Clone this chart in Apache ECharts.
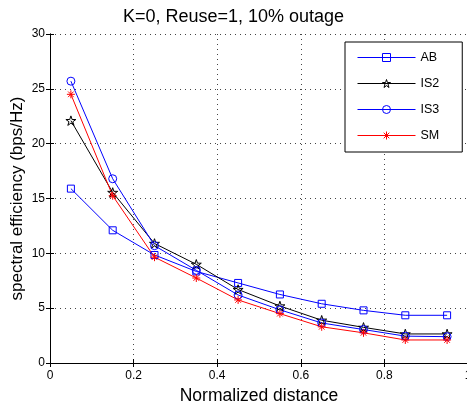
<!DOCTYPE html>
<html>

<head>
    <title>spectral efficiency</title>
    <meta charset="UTF-8">
    <script src="https://cdn.jsdelivr.net/npm/echarts@6.0.0/dist/echarts.min.js"></script>
    <style>
        html, body { margin: 0; padding: 0; background: #fff; }
        #mycharts { width: 467px; height: 406px; }
    </style>
</head>

<body>
    <div id="mycharts"></div>

    <script>
        // normalized distance (x of each point)
        var distances = [0.05, 0.15, 0.25, 0.35, 0.45, 0.55, 0.65, 0.75, 0.85, 0.95];
        // spectral efficiency
        var abData  = [15.9, 12.1, 9.85, 8.35, 7.3, 6.25, 5.4, 4.8, 4.35, 4.35];
        var is2Data = [22.1, 15.55, 10.9, 9.0, 6.7, 5.2, 3.9, 3.25, 2.65, 2.65];
        var is3Data = [25.7, 16.8, 10.7, 8.45, 6.2, 4.85, 3.65, 3.05, 2.45, 2.4];
        var smData  = [24.5, 15.25, 9.65, 7.75, 5.75, 4.5, 3.3, 2.75, 2.1, 2.1];
        var seriesNames = ['AB', 'IS2', 'IS3', 'SM'];

        var font = 'Liberation Sans, Arial, sans-serif';
        var pentagram = 'path://M0,-1 L0.2245,-0.309 L0.951,-0.309 L0.363,0.118 L0.588,0.809 L0,0.382 L-0.588,0.809 L-0.363,0.118 L-0.951,-0.309 L-0.2245,-0.309 Z';
        var asterisk = 'path://M0,-1 L0,1 M-1,0 L1,0 M-0.7,-0.7 L0.7,0.7 M-0.7,0.7 L0.7,-0.7';

        var pairs = function (ys) {
            var out = [];
            for (var i = 0; i < distances.length; i++) {
                out.push([distances[i], ys[i]]);
            }
            return out;
        }

        var makeSeries = function (name, ys, color, symbol, size) {
            return {
                name: name,
                type: 'line',
                data: pairs(ys),
                symbol: symbol,
                symbolSize: size,
                symbolKeepAspect: true,
                showAllSymbol: true,
                lineStyle: { color: color, width: 1 },
                itemStyle: { color: 'rgba(255,255,255,0)', borderColor: color, borderWidth: 1 },
                emphasis: { disabled: true }
            }
        }

        var gridLine = { show: true, lineStyle: { color: '#444', type: [1, 4], width: 1 } };
        var blackLine = { show: true, lineStyle: { color: '#000', width: 1 } };

        var option = {
            animation: false,
            title: {
                text: 'K=0, Reuse=1, 10% outage',
                left: 'center',
                top: 8,
                padding: 0,
                textStyle: { fontFamily: font, fontSize: 18, fontWeight: 'normal', color: '#000' }
            },
            grid: { left: 50, top: 34, width: 418, height: 329, outerBoundsMode: 'none' },
            legend: {
                orient: 'vertical',
                left: 345,
                top: 42,
                padding: [9, 23, 10, 12],
                itemGap: 13,
                itemWidth: 58,
                itemHeight: 10,
                backgroundColor: '#fff',
                borderColor: '#000',
                borderWidth: 1,
                data: seriesNames,
                itemStyle: { color: 'rgba(255,255,255,0)', borderWidth: 1 },
                lineStyle: { width: 1 },
                textStyle: { fontFamily: font, fontSize: 12.5, color: '#000' }
            },
            xAxis: [{
                type: 'value',
                min: 0,
                max: 1,
                interval: 0.2,
                name: 'Normalized distance',
                nameLocation: 'middle',
                nameGap: 21,
                nameTextStyle: { fontFamily: font, fontSize: 17.5, color: '#000' },
                axisLine: blackLine,
                axisTick: { inside: true, length: 4, lineStyle: { color: '#000' } },
                axisLabel: { margin: 7, fontFamily: font, fontSize: 12, color: '#000' },
                splitLine: gridLine
            }, {
                type: 'value',
                position: 'top',
                min: 0,
                max: 1,
                interval: 0.2,
                axisLine: blackLine,
                axisTick: { inside: true, length: 4, lineStyle: { color: '#000' } },
                axisLabel: { show: false },
                splitLine: { show: false }
            }],
            yAxis: [{
                type: 'value',
                min: 0,
                max: 30,
                interval: 5,
                name: 'spectral efficiency (bps/Hz)',
                nameLocation: 'middle',
                nameGap: 24,
                nameMoveOverlap: false,
                nameTextStyle: { fontFamily: font, fontSize: 17, color: '#000' },
                axisLine: blackLine,
                axisTick: { inside: true, length: 4, lineStyle: { color: '#000' } },
                axisLabel: { margin: 5, fontFamily: font, fontSize: 12, color: '#000' },
                splitLine: gridLine
            }, {
                type: 'value',
                position: 'right',
                min: 0,
                max: 30,
                interval: 5,
                axisLine: blackLine,
                axisTick: { inside: true, length: 4, lineStyle: { color: '#000' } },
                axisLabel: { show: false },
                splitLine: { show: false }
            }],
            series: [
                makeSeries('AB', abData, '#0000ff', 'rect', 7),
                makeSeries('IS2', is2Data, '#000000', pentagram, 10),
                makeSeries('IS3', is3Data, '#0000ff', 'circle', 8),
                makeSeries('SM', smData, '#ff0000', asterisk, 8)
            ]
        }

        var myChart = echarts.init(document.getElementById('mycharts'), null, { renderer: 'canvas' });
        myChart.setOption(option);
    </script>
</body>

</html>
